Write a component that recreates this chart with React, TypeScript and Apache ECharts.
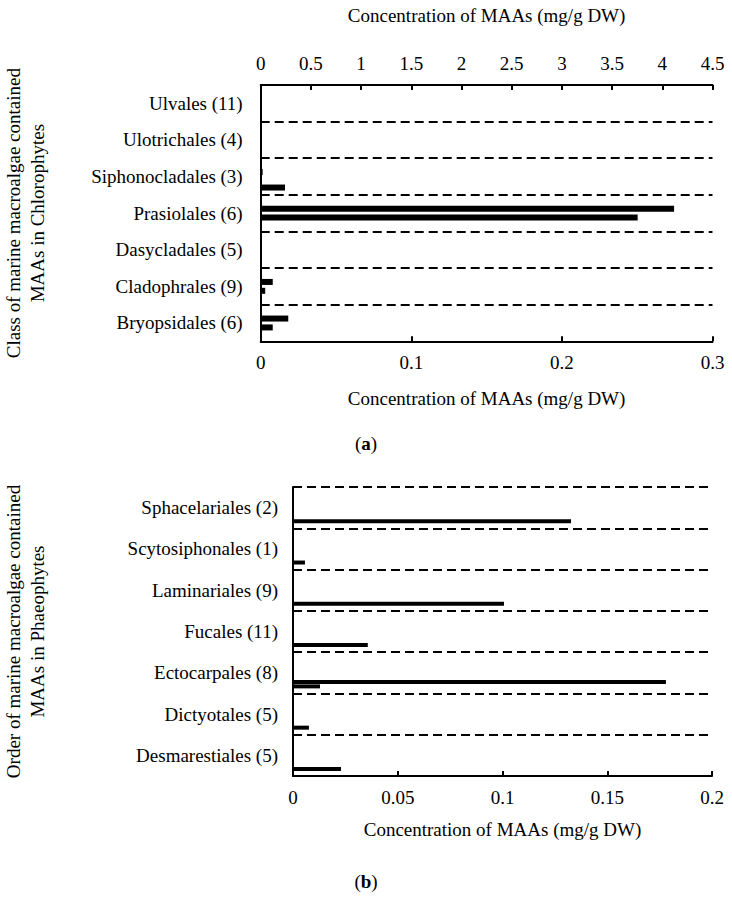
import React, { useEffect, useRef } from "react";
import * as echarts from "echarts";

// ---- Data: (a) Chlorophytes ----
const chloroCategories = [
  "Ulvales (11)",
  "Ulotrichales (4)",
  "Siphonocladales (3)",
  "Prasiolales (6)",
  "Dasycladales (5)",
  "Cladophrales (9)",
  "Bryopsidales (6)",
];
// bottom axis (0 - 0.3 mg/g DW)
const chloroUpperBars = [0, 0.0008, 0.0013, 0.2745, 0, 0.008, 0.0183];
const chloroLowerBars = [0, 0.0005, 0.0007, 0.2503, 0, 0.003, 0.008];
// top axis (0 - 4.5 mg/g DW)
const chloroTopAxisBars = [0, 0, 0.242, 0, 0, 0, 0];
const chloroBottomTicks = { min: 0, max: 0.3, interval: 0.1 };
const chloroTopTicks = { min: 0, max: 4.5, interval: 0.5 };

// ---- Data: (b) Phaeophytes ----
const phaeoCategories = [
  "Sphacelariales (2)",
  "Scytosiphonales (1)",
  "Laminariales (9)",
  "Fucales (11)",
  "Ectocarpales (8)",
  "Dictyotales (5)",
  "Desmarestiales (5)",
];
const phaeoUpperBars = [0, 0, 0, 0, 0.178, 0, 0];
const phaeoLowerBars = [0.1327, 0.0057, 0.1007, 0.0357, 0.0129, 0.0076, 0.0229];
const phaeoBottomTicks = { min: 0, max: 0.2, interval: 0.05 };

const xTitle = "Concentration of MAAs (mg/g DW)";
const yTitleA = "Class of marine macroalgae contained\nMAAs in Chlorophytes";
const yTitleB = "Order of marine macroalgae contained\nMAAs in Phaeophytes";

const FONT = "Liberation Serif";
const FS = 19;

export default function App() {
  const ref = useRef<HTMLDivElement>(null);

  useEffect(() => {
    if (!ref.current) return;
    const chart = echarts.init(ref.current, undefined, { renderer: "svg" });

    // layout
    const gA = { left: 260.7, top: 85, width: 451.8, height: 256.3 };
    const gB = { left: 293, top: 487, width: 419, height: 289 };
    const bandB = gB.height / phaeoCategories.length;

    const axisLine = { show: true, lineStyle: { color: "#000", width: 2 } };
    const dashed = { show: true, interval: 0, lineStyle: { color: "#000", width: 2, type: [9, 5] as any } };
    const xLabel = { color: "#000", fontFamily: FONT, fontSize: FS, margin: 12 };
    const yLabel = (m: number) => ({ color: "#000", fontFamily: FONT, fontSize: FS, margin: m });
    const tick = { show: true, inside: true, length: 5, lineStyle: { color: "#000", width: 2 } };

    const hiddenValue = (gridIndex: number, t: { min: number; max: number }) => ({
      type: "value", gridIndex, min: t.min, max: t.max, show: false,
    });
    const hiddenCat = (gridIndex: number, data: string[]) => ({
      type: "category", gridIndex, data, inverse: true, show: false,
    });
    const txt = (text: string, x: number, y: number, extra: any = {}) => ({
      type: "text", x, y, ...extra,
      style: { text, fontFamily: FONT, fontSize: FS, lineHeight: 24, fill: "#000", align: "center", verticalAlign: "middle" },
    });
    const panelTag = (letter: string, x: number, y: number) => ({
      type: "text", x, y,
      style: {
        text: `{n|(}{b|${letter}}{n|)}`, align: "center", verticalAlign: "middle",
        rich: {
          n: { fontFamily: FONT, fontSize: FS, fill: "#000" },
          b: { fontFamily: FONT, fontSize: FS, fontWeight: "bold", fill: "#000" },
        },
      },
    });

    chart.setOption({
      animation: false,
      backgroundColor: "#fff",
      textStyle: { fontFamily: FONT },
      grid: [
        { ...gA, containLabel: false },
        { ...gA, top: gA.top + 11, containLabel: false },
        { ...gB, containLabel: false },
        { ...gB, top: gB.top + bandB * 0.275, containLabel: false },
      ],
      xAxis: [
        {
          type: "value", gridIndex: 0, position: "bottom", ...chloroBottomTicks,
          axisLine, axisTick: tick, axisLabel: xLabel, splitLine: { show: false },
        },
        {
          type: "value", gridIndex: 0, position: "top", ...chloroTopTicks,
          axisLine, axisTick: tick, axisLabel: xLabel, splitLine: { show: false },
        },
        hiddenValue(1, chloroTopTicks),
        {
          type: "value", gridIndex: 2, position: "bottom", ...phaeoBottomTicks,
          axisLine, axisTick: tick, axisLabel: xLabel, splitLine: { show: false },
        },
        hiddenValue(3, phaeoBottomTicks),
      ],
      yAxis: [
        {
          type: "category", gridIndex: 0, data: chloroCategories, inverse: true,
          axisLine, axisTick: { show: false }, axisLabel: yLabel(18), splitLine: dashed,
        },
        hiddenCat(1, chloroCategories),
        {
          type: "category", gridIndex: 2, data: phaeoCategories, inverse: true,
          axisLine, axisTick: { show: false }, axisLabel: yLabel(15), splitLine: dashed,
        },
        hiddenCat(3, phaeoCategories),
      ],
      series: [
        {
          type: "bar", name: "A upper", xAxisIndex: 0, yAxisIndex: 0, data: chloroUpperBars,
          barWidth: 6, barGap: "48%", itemStyle: { color: "#000" },
        },
        {
          type: "bar", name: "A lower", xAxisIndex: 0, yAxisIndex: 0, data: chloroLowerBars,
          barWidth: 6, barGap: "48%", itemStyle: { color: "#000" },
        },
        {
          type: "bar", name: "A top axis", xAxisIndex: 2, yAxisIndex: 1, data: chloroTopAxisBars,
          barWidth: 6, itemStyle: { color: "#000" },
        },
        {
          type: "bar", name: "B upper", xAxisIndex: 4, yAxisIndex: 3, data: phaeoUpperBars,
          barWidth: 4, barGap: "12%", itemStyle: { color: "#000" },
        },
        {
          type: "bar", name: "B lower", xAxisIndex: 4, yAxisIndex: 3, data: phaeoLowerBars,
          barWidth: 4, barGap: "12%", itemStyle: { color: "#000" },
        },
      ],
      graphic: [
        txt(xTitle, gA.left + gA.width / 2, 15),
        txt(xTitle, gA.left + gA.width / 2, 398),
        panelTag("a", 366, 443),
        txt(yTitleA, 25, gA.top + gA.height / 2, { rotation: Math.PI / 2 }),
        txt(xTitle, gB.left + gB.width / 2, 829),
        panelTag("b", 366, 881),
        txt(yTitleB, 25, gB.top + gB.height / 2, { rotation: Math.PI / 2 }),
      ],
    });

    return () => chart.dispose();
  }, []);

  return (
    <div
      ref={ref}
      style={{ position: "absolute", left: 0, top: 0, width: 732, height: 902, background: "#fff" }}
    />
  );
}
